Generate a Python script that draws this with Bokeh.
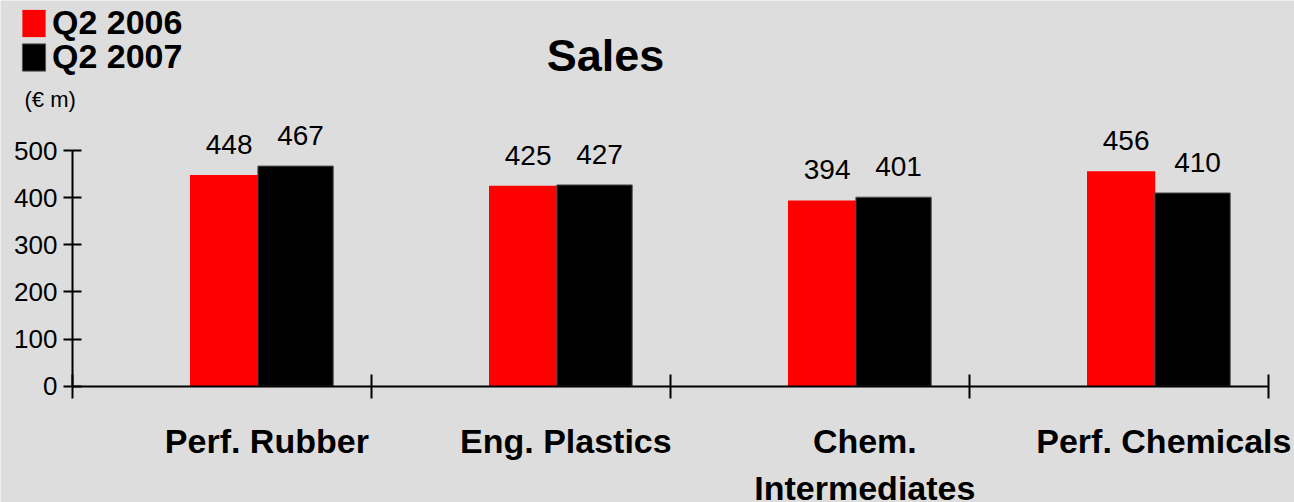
from bokeh.plotting import figure
from bokeh.models import (Range1d, FixedTicker, Legend, LegendItem, Label,
                          LinearAxis, ColumnDataSource)
from bokeh.core.properties import value
from bokeh.embed import file_html
from bokeh.resources import INLINE

# ---- data ----
categories = ["Perf. Rubber", "Eng. Plastics", "Chem.\nIntermediates", "Perf. Chemicals"]
sales_2006 = [448, 425, 394, 456]
sales_2007 = [467, 427, 401, 410]
series_names = ["Q2 2006", "Q2 2007"]
y_ticks = [0, 100, 200, 300, 400, 500]
unit_label = "(€ m)"
title_text = "Sales"

BG = "#DDDDDD"
FONT = "Liberation Sans"
RED = "#FF0000"
BLACK = "#000000"

X0, XS = 72, 299          # px of x=0, px per category
Y0, YS = 385.7, 0.4714    # px of y=0, px per unit


def dx(px):
    return (px - X0) / XS


def dy(py):
    return (Y0 - py) / YS


idx = list(range(len(categories)))
label_pos = [round(i + 0.65, 3) for i in idx]
src = ColumnDataSource(data=dict(
    x06=[i + 0.507 for i in idx],
    x07=[i + 0.746 for i in idx],
    v06=sales_2006,
    v07=sales_2007,
    t06=[str(v) for v in sales_2006],
    t07=[str(v) for v in sales_2007],
))

# frame covers the whole canvas; axes drawn at fixed data locations
p = figure(width=1294, height=502, output_backend="svg", toolbar_location=None,
           title=None, x_axis_type=None, y_axis_type=None,
           x_range=Range1d(dx(0), dx(1294)),
           y_range=Range1d(dy(502), dy(0)),
           min_border=0, min_border_left=0, min_border_right=0,
           min_border_top=0, min_border_bottom=0,
           background_fill_color=BG, border_fill_color=BG,
           outline_line_color=None)

r06 = p.vbar(x="x06", top="v06", bottom=0, width=0.228, source=src,
             fill_color=RED, line_color=None)
r07 = p.vbar(x="x07", top="v07", bottom=0, width=0.252, source=src,
             fill_color=BLACK, line_color="#555555", line_width=1)

for xcol, ycol, tcol in (("x06", "v06", "t06"), ("x07", "v07", "t07")):
    p.text(x=xcol, y=ycol, text=tcol, source=src, text_font=value(FONT),
           text_font_size="28px", text_align="center",
           text_baseline="middle", text_color="black",
           x_offset=5, y_offset=-30.5)

# x axis: boundaries as (minor) ticks, category names as labels
xa = LinearAxis(fixed_location=0)
xa.ticker = FixedTicker(ticks=label_pos, minor_ticks=list(range(len(categories) + 1)))
xa.major_label_overrides = {pos: name for pos, name in zip(label_pos, categories)}
xa.bounds = (0, len(categories))
xa.major_tick_in = 0
xa.major_tick_out = 0
xa.major_tick_line_color = None
xa.minor_tick_in = 12
xa.minor_tick_out = 12
xa.minor_tick_line_width = 2
xa.minor_tick_line_color = "black"
xa.axis_line_width = 2
xa.axis_line_color = "black"
xa.major_label_standoff = 24
xa.major_label_text_font = FONT
xa.major_label_text_font_style = "bold"
xa.major_label_text_font_size = "34px"
xa.major_label_text_color = "black"
xa.major_label_text_line_height = 1.24
p.add_layout(xa, "below")

ya = LinearAxis(fixed_location=0)
ya.ticker = FixedTicker(ticks=y_ticks)
ya.bounds = (y_ticks[0], y_ticks[-1])
ya.major_tick_in = 9
ya.major_tick_out = 9
ya.axis_line_width = 2
ya.major_tick_line_width = 2
ya.axis_line_color = "black"
ya.major_tick_line_color = "black"
ya.minor_tick_line_color = None
ya.major_label_text_font = FONT
ya.major_label_text_font_size = "26px"
ya.major_label_text_color = "black"
ya.major_label_standoff = 6
p.add_layout(ya, "left")

# legend: one entry per series, stacked
legend_style = dict(orientation="vertical", glyph_width=29, glyph_height=34,
                    label_standoff=4, spacing=0, padding=0, margin=0,
                    label_text_font=FONT, label_text_font_style="bold",
                    label_text_font_size="34px", label_text_color="black",
                    background_fill_alpha=0, border_line_alpha=0)
for name, rend, loc in ((series_names[0], r06, (19, 460)),
                        (series_names[1], r07, (19, 426))):
    p.add_layout(Legend(items=[LegendItem(label=name, renderers=[rend])],
                        location=loc, **legend_style), "center")

p.add_layout(Label(x=dx(605), y=dy(55), text=title_text, text_font=FONT,
                   text_font_style="bold", text_font_size="45px",
                   text_align="center", text_baseline="middle",
                   text_color="black"))
p.add_layout(Label(x=dx(24), y=dy(98.5), text=unit_label, text_font=FONT,
                   text_font_size="22px", text_align="left",
                   text_baseline="middle", text_color="black"))

p.xgrid.visible = False
p.ygrid.visible = False

open("out.html", "w").write(file_html(p, INLINE))
